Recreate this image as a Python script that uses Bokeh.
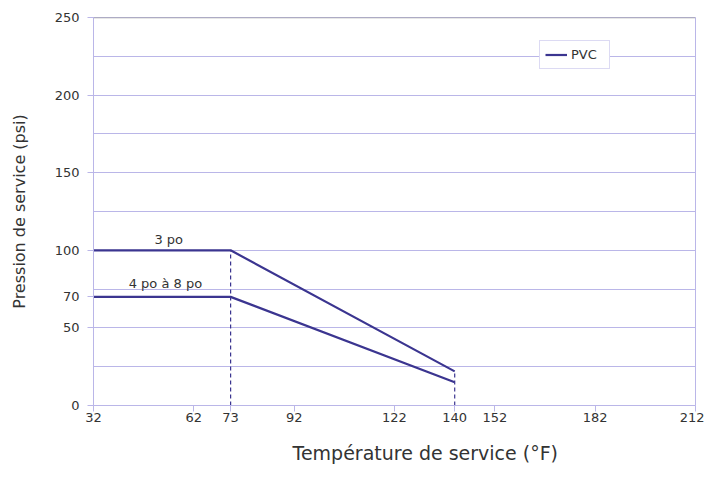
from bokeh.plotting import figure
from bokeh.models import FixedTicker, Span, Legend, LegendItem, ColumnDataSource, Range1d, Title
from bokeh.core.properties import value
from bokeh.embed import file_html
from bokeh.resources import INLINE

# ---- data ----
temp_3po = [32, 73, 140]
psi_3po = [100, 100, 22]
temp_4_8po = [32, 73, 140]
psi_4_8po = [70, 70, 15]
drop_x = [73, 140]
drop_top = [100, 22]
x_ticks = [32, 62, 73, 92, 122, 140, 152, 182, 212]
y_ticks = [0, 50, 70, 100, 150, 200, 250]
y_grid = [0, 25, 50, 75, 100, 125, 150, 175, 200, 225, 250]
label_text = ["3 po", "4 po à 8 po"]
label_x = [54.5, 53.5]
label_y = [100, 70]
legend_label = "PVC"
x_title = "Température de service (°F)"
y_title = "Pression de service (psi)"

LINE = "#3b3590"
GRID = "#bab6e8"
TXT = "#333333"
FONT = "DejaVu Sans"

p = figure(width=704, height=479, output_backend="svg", toolbar_location=None,
           x_range=Range1d(32, 212), y_range=Range1d(0, 250),
           min_border_left=93, min_border_right=9, min_border_top=17, min_border_bottom=0)
p.background_fill_color = "white"
p.border_fill_color = "white"
p.outline_line_color = GRID
p.outline_line_width = 1

p.xgrid.visible = False
p.ygrid.ticker = FixedTicker(ticks=y_grid)
p.ygrid.grid_line_color = GRID
p.ygrid.grid_line_width = 1

for ax in (p.xaxis[0], p.yaxis[0]):
    ax.axis_line_color = GRID
    ax.major_tick_line_color = GRID
    ax.major_tick_out = 6
    ax.major_tick_in = 0
    ax.minor_tick_line_color = None
    ax.major_label_text_font = FONT
    ax.major_label_text_font_size = "13px"
    ax.major_label_text_color = TXT
    ax.axis_label_text_font = FONT
    ax.axis_label_text_font_style = "normal"
    ax.axis_label_text_color = TXT

p.xaxis.ticker = FixedTicker(ticks=x_ticks)
p.yaxis.ticker = FixedTicker(ticks=y_ticks)
p.xaxis.major_label_standoff = 1
p.yaxis.major_label_standoff = 8
p.yaxis.axis_label = y_title
p.yaxis.axis_label_text_font_size = "16px"
p.yaxis.axis_label_standoff = 23

# x-axis title, offset to the right as in the original
xt = Title(text=x_title, align="left", offset=199, standoff=31,
           text_font=FONT, text_font_size="19px", text_font_style="normal",
           text_color=TXT)
p.add_layout(xt, "below")

top = Span(location=250, dimension="width", line_color="#a0a0a0", line_width=1.5)
p.add_layout(top)

# dashed drops
for x, yt in zip(drop_x, drop_top):
    p.line([x, x], [0, yt], line_color=LINE, line_width=1.2, line_dash="4 3")

r1 = p.line(temp_3po, psi_3po, line_color=LINE, line_width=2.2)
r2 = p.line(temp_4_8po, psi_4_8po, line_color=LINE, line_width=2.2)

src = ColumnDataSource(dict(x=label_x, y=label_y, t=label_text, off=[-3, -6]))
p.text(x="x", y="y", text="t", source=src, y_offset="off", text_align="center",
       text_baseline="bottom", text_font=value(FONT), text_font_size="13px", text_color=TXT)

legend = Legend(items=[LegendItem(label=legend_label, renderers=[r1])],
                location=(446, 336), margin=0, padding=5, spacing=0,
                glyph_width=22, glyph_height=17, label_height=17, label_width=33,
                label_standoff=4, label_text_font=FONT, label_text_font_size="13px",
                label_text_color=TXT, border_line_color=GRID, border_line_width=1,
                background_fill_color="white", background_fill_alpha=1)
p.add_layout(legend)

open("out.html", "w").write(file_html(p, INLINE))
